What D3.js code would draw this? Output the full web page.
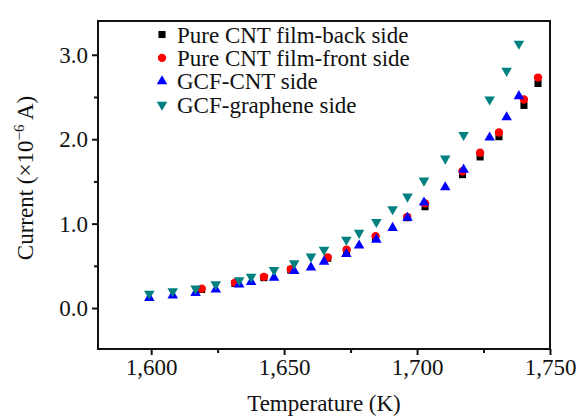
<!DOCTYPE html>
<html>
<head>
<meta charset="utf-8">
<script src="https://cdn.jsdelivr.net/npm/d3@7"></script>
<style>
  html, body { margin: 0; padding: 0; background: #fff; }
  svg { display: block; }
  text { font-family: "Liberation Serif", "Times New Roman", serif; fill: #111; }
</style>
</head>
<body>
<div id="chart"></div>
<script>
// ---- data ----
const seriesNames = ["Pure CNT film-back side", "Pure CNT film-front side", "GCF-CNT side", "GCF-graphene side"];

const cntTemp = [1619.0, 1631.5, 1642.4, 1652.5, 1666.4, 1673.5, 1684.4, 1696.3, 1703.0, 1717.1, 1723.7, 1730.8, 1740.2, 1745.5];
const backCurrent  = [0.22, 0.29, 0.36, 0.45, 0.59, 0.68, 0.83, 1.07, 1.20, 1.58, 1.79, 2.03, 2.40, 2.66];
const frontCurrent = [0.23, 0.30, 0.37, 0.46, 0.60, 0.69, 0.85, 1.08, 1.24, 1.62, 1.84, 2.08, 2.47, 2.73];

const gcfTemp = [1599.3, 1608.1, 1616.7, 1624.3, 1633.1, 1637.6, 1646.2, 1653.8, 1660.1, 1665.0, 1673.4, 1678.2, 1684.7, 1690.8, 1696.4, 1702.6, 1710.6, 1717.5, 1727.3, 1733.7, 1738.3];
const gcfCntCurrent = [0.12, 0.15, 0.18, 0.22, 0.28, 0.31, 0.36, 0.44, 0.48, 0.55, 0.64, 0.74, 0.81, 0.95, 1.07, 1.25, 1.43, 1.64, 2.02, 2.26, 2.51];
const gcfGrCurrent  = [0.17, 0.20, 0.23, 0.28, 0.33, 0.37, 0.45, 0.53, 0.61, 0.69, 0.81, 0.89, 1.02, 1.17, 1.32, 1.51, 1.77, 2.05, 2.47, 2.81, 3.13];

const xMajorTicks = [1600, 1650, 1700, 1750];
const xMinorTicks = [1625, 1675, 1725];
const yMajorTicks = [0, 1, 2, 3];
const yMinorTicks = [0.5, 1.5, 2.5];

// ---- layout ----
const W = 579, H = 417;
const mLeft = 98, mRight = 550, mTop = 21, mBottom = 349;

const svg = d3.select("#chart").append("svg").attr("width", W).attr("height", H);

const x = d3.scaleLinear().domain([1580, 1750]).range([mLeft, mRight]);
const y = d3.scaleLinear().domain([-0.485, 3.4]).range([mBottom, mTop]);

const fontSize = 23;

// axes
const xAxis = d3.axisBottom(x).tickValues(xMajorTicks).tickSize(6).tickSizeOuter(0).tickPadding(4).tickFormat(d3.format(","));
const xAxisMinor = d3.axisBottom(x).tickValues(xMinorTicks).tickSize(4).tickSizeOuter(0).tickFormat("");
const yAxis = d3.axisLeft(y).tickValues(yMajorTicks).tickSize(6).tickSizeOuter(0).tickPadding(4).tickFormat(d3.format(".1f"));
const yAxisMinor = d3.axisLeft(y).tickValues(yMinorTicks).tickSize(4).tickSizeOuter(0).tickFormat("");

function styleAxis(g) {
  g.select(".domain").remove();
  g.selectAll(".tick line").attr("stroke", "#111").attr("stroke-width", 2);
  g.selectAll(".tick text").attr("font-size", fontSize).attr("font-family", "Liberation Serif, serif").attr("fill", "#111");
}

svg.append("g").attr("transform", `translate(0,${mBottom})`).call(xAxis).call(styleAxis);
svg.append("g").attr("transform", `translate(0,${mBottom})`).call(xAxisMinor).call(styleAxis);
svg.append("g").attr("transform", `translate(${mLeft},0)`).call(yAxis).call(styleAxis);
svg.append("g").attr("transform", `translate(${mLeft},0)`).call(yAxisMinor).call(styleAxis);

// frame
svg.append("rect")
  .attr("x", mLeft).attr("y", mTop)
  .attr("width", mRight - mLeft).attr("height", mBottom - mTop)
  .attr("fill", "none").attr("stroke", "#111").attr("stroke-width", 2);

// axis titles
svg.append("text")
  .attr("x", (mLeft + mRight) / 2).attr("y", 411)
  .attr("text-anchor", "middle").attr("font-size", fontSize)
  .text("Temperature (K)");

const yt = svg.append("text")
  .attr("transform", `translate(33,${178}) rotate(-90)`)
  .attr("text-anchor", "middle").attr("font-size", fontSize);
yt.append("tspan").text("Current (\u00d710");
yt.append("tspan").attr("font-size", 15).attr("dy", -9).text("\u22126");
yt.append("tspan").attr("dy", 9).text(" A)");

// series
const series = [
  { name: seriesNames[0], xs: cntTemp, ys: backCurrent,  color: "#000000", symbol: d3.symbolSquare, size: 50, rot: 0 },
  { name: seriesNames[1], xs: cntTemp, ys: frontCurrent, color: "#ff0000", symbol: d3.symbolCircle, size: 55, rot: 0 },
  { name: seriesNames[2], xs: gcfTemp, ys: gcfCntCurrent, color: "#0000ff", symbol: d3.symbolTriangle, size: 48, rot: 0 },
  { name: seriesNames[3], xs: gcfTemp, ys: gcfGrCurrent,  color: "#008080", symbol: d3.symbolTriangle, size: 48, rot: 180 }
];

series.forEach(s => {
  const path = d3.symbol().type(s.symbol).size(s.size)();
  svg.append("g").selectAll("path")
    .data(s.xs.map((t, i) => [t, s.ys[i]]))
    .join("path")
    .attr("d", path)
    .attr("fill", s.color)
    .attr("transform", d => `translate(${x(d[0])},${y(d[1])}) rotate(${s.rot})`);
});

// legend
const legX = 162, legTextX = 177, legBase = 42.5, legStep = 23.4;
series.forEach((s, i) => {
  const base = legBase + i * legStep;
  svg.append("path")
    .attr("d", d3.symbol().type(s.symbol).size(s.size)())
    .attr("fill", s.color)
    .attr("transform", `translate(${legX},${base - 8}) rotate(${s.rot})`);
  svg.append("text")
    .attr("x", legTextX).attr("y", base)
    .attr("font-size", fontSize)
    .text(s.name);
});
</script>
</body>
</html>
